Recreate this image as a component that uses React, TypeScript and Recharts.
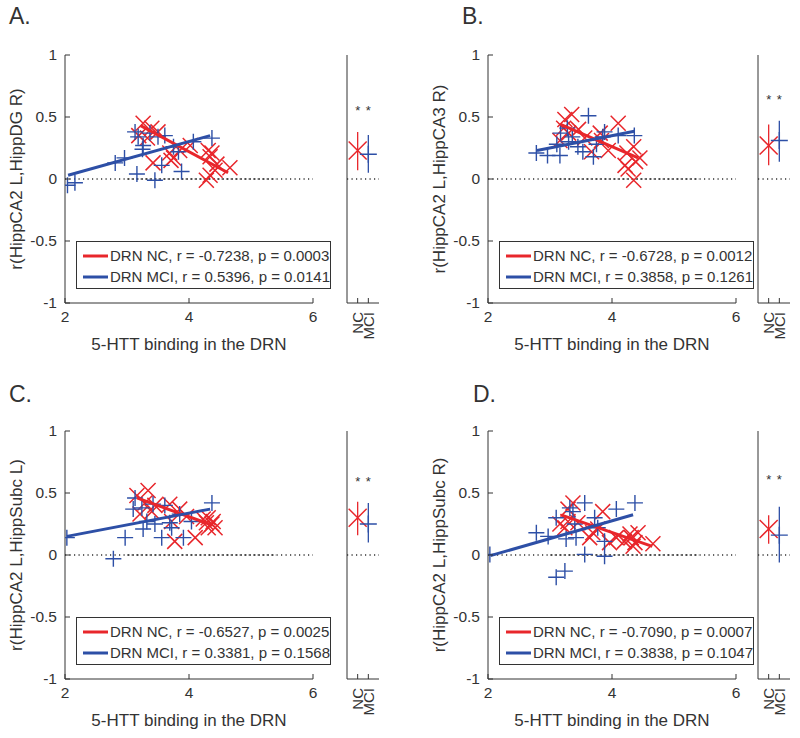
import React from 'react';
import { ScatterChart, Scatter, XAxis, YAxis, ReferenceLine, ErrorBar, Legend } from 'recharts';

const RED = '#e8262b';
const BLUE = '#2d4fa6';
const AX = '#333333';
const TXT = '#333333';
const FONT = '"Liberation Sans", Arial, Helvetica, sans-serif';

const xTicks = [2, 4, 6];
const yTicks = [-1, -0.5, 0, 0.5, 1];
const groupLabels = ['NC', 'MCI'];
const groupX = [1, 2];
const xTitle = '5-HTT binding in the DRN';
const panelLetters = ['A.', 'B.', 'C.', 'D.'];

// ---------- Panel A ----------
const ncA: number[][] = [
  [3.26, 0.45], [3.4, 0.41], [3.5, 0.38], [3.19, 0.35], [3.33, 0.33], [3.42, 0.13], [3.69, 0.21],
  [3.75, 0.17], [3.71, 0.15], [3.85, 0.23], [4.02, 0.27], [4.31, 0.23], [4.37, 0.21], [4.34, 0.18],
  [4.66, 0.09], [4.28, -0.01], [4.34, 0.03], [4.42, 0.07], [4.45, 0.12],
];
const mciA: number[][] = [
  [2.04, -0.05], [2.16, -0.03], [2.81, 0.13], [2.96, 0.17], [3.13, 0.38], [3.18, 0.34], [3.26, 0.27],
  [3.25, 0.24], [3.16, 0.04], [3.37, 0.37], [3.5, 0.34], [3.61, 0.35], [3.45, -0.01], [3.56, 0.11],
  [3.75, 0.26], [3.83, 0.22], [3.88, 0.06], [4.07, 0.3], [4.37, 0.33],
];
const ncFitA: number[][] = [[3.22, 0.43], [4.63, 0.05]];
const mciFitA: number[][] = [[2.05, 0.03], [4.34, 0.35]];
const sideMeanA = [0.23, 0.2];
const sideLowA = [0.07, 0.05];
const sideHighA = [0.38, 0.355];
const starA = 0.57;
const yLabelA = 'r(HippCA2 L,HippDG R)';
const legendA = ['DRN NC, r = -0.7238, p = 0.0003', 'DRN MCI, r = 0.5396, p = 0.0141'];

// ---------- Panel B ----------
const ncB: number[][] = [
  [3.35, 0.52], [3.24, 0.48], [3.22, 0.41], [3.3, 0.37], [3.46, 0.4], [3.56, 0.33], [3.16, 0.31],
  [3.81, 0.37], [3.83, 0.31], [3.67, 0.22], [3.94, 0.23], [4.1, 0.45], [4.24, 0.21], [4.35, 0.26],
  [4.45, 0.17], [4.38, 0.14], [4.21, 0.11], [4.35, -0.01], [4.26, 0.08],
];
const mciB: number[][] = [
  [2.78, 0.21], [2.96, 0.19], [3.16, 0.19], [3.11, 0.28], [3.17, 0.37], [3.28, 0.41], [3.36, 0.34],
  [3.62, 0.51], [3.45, 0.26], [3.53, 0.22], [3.7, 0.18], [3.85, 0.34], [3.88, 0.38], [4.1, 0.35],
  [4.36, 0.35], [3.3, 0.3], [3.75, 0.28],
];
const ncFitB: number[][] = [[3.17, 0.44], [4.42, 0.17]];
const mciFitB: number[][] = [[2.79, 0.23], [4.36, 0.385]];
const sideMeanB = [0.27, 0.31];
const sideLowB = [0.11, 0.14];
const sideHighB = [0.44, 0.47];
const starB = 0.66;
const yLabelB = 'r(HippCA2 L,HippCA3 R)';
const legendB = ['DRN NC, r = -0.6728, p = 0.0012', 'DRN MCI, r = 0.3858, p = 0.1261'];

// ---------- Panel C ----------
const ncC: number[][] = [
  [3.16, 0.48], [3.34, 0.52], [3.29, 0.42], [3.4, 0.35], [3.45, 0.4], [3.21, 0.33], [3.69, 0.41],
  [3.85, 0.37], [3.72, 0.27], [3.96, 0.31], [3.77, 0.11], [4.1, 0.14], [4.23, 0.29], [4.31, 0.3],
  [4.37, 0.25], [4.42, 0.22], [4.31, 0.22], [4.28, 0.26], [4.39, 0.27],
];
const mciC: number[][] = [
  [2.03, 0.14], [2.78, -0.03], [2.97, 0.14], [3.13, 0.46], [3.1, 0.37], [3.26, 0.21], [3.24, 0.38],
  [3.32, 0.27], [3.42, 0.41], [3.45, 0.25], [3.56, 0.14], [3.69, 0.26], [3.72, 0.22], [3.91, 0.14],
  [3.85, 0.33], [4.04, 0.27], [4.37, 0.42], [3.61, 0.4],
];
const ncFitC: number[][] = [[3.16, 0.46], [4.38, 0.24]];
const mciFitC: number[][] = [[2.03, 0.15], [4.34, 0.37]];
const sideMeanC = [0.3, 0.25];
const sideLowC = [0.16, 0.1];
const sideHighC = [0.43, 0.42];
const starC = 0.61;
const yLabelC = 'r(HippCA2 L,HippSubc L)';
const legendC = ['DRN NC, r = -0.6527, p = 0.0025', 'DRN MCI, r = 0.3381, p = 0.1568'];

// ---------- Panel D ----------
const ncD: number[][] = [
  [3.37, 0.42], [3.29, 0.37], [3.85, 0.35], [3.16, 0.25], [3.24, 0.22], [3.29, 0.27], [3.45, 0.26],
  [3.64, 0.14], [3.69, 0.18], [3.77, 0.21], [3.96, 0.1], [4.07, 0.14], [4.2, 0.11], [4.31, 0.14],
  [4.37, 0.1], [4.42, 0.18], [4.34, 0.07], [4.66, 0.09], [4.29, 0.17],
];
const mciD: number[][] = [
  [2.03, 0.005], [2.78, 0.18], [2.97, 0.15], [3.1, -0.18], [3.24, -0.13], [3.1, 0.3], [3.26, 0.13],
  [3.32, 0.38], [3.37, 0.35], [3.42, 0.14], [3.56, 0.42], [3.56, 0.005], [3.72, 0.3], [3.77, 0.22],
  [3.88, 0.11], [3.88, -0.01], [4.07, 0.37], [4.37, 0.42], [3.4, 0.25],
];
const ncFitD: number[][] = [[3.2, 0.32], [4.65, 0.07]];
const mciFitD: number[][] = [[2.04, -0.005], [4.34, 0.325]];
const sideMeanD = [0.21, 0.16];
const sideLowD = [0.09, -0.06];
const sideHighD = [0.32, 0.39];
const starD = 0.63;
const yLabelD = 'r(HippCA2 L,HippSubc R)';
const legendD = ['DRN NC, r = -0.7090, p = 0.0007', 'DRN MCI, r = 0.3838, p = 0.1047'];

const zeroDense = [3.0, 5.4];

const toPts = (arr: number[][]) => arr.map(([x, y]) => ({ x, y }));

const makeX = (s: number, color: string, w: number) => (p: any) => {
  const { cx, cy } = p;
  if (cx == null || cy == null) return <g />;
  return (
    <path
      d={`M${cx - s},${cy - s}L${cx + s},${cy + s}M${cx - s},${cy + s}L${cx + s},${cy - s}`}
      stroke={color}
      strokeWidth={w}
      fill="none"
    />
  );
};
const makePlus = (s: number, color: string, w: number) => (p: any) => {
  const { cx, cy } = p;
  if (cx == null || cy == null) return <g />;
  return (
    <path d={`M${cx - s},${cy}L${cx + s},${cy}M${cx},${cy - s}L${cx},${cy + s}`} stroke={color} strokeWidth={w} fill="none" />
  );
};
const RedX = makeX(7.5, RED, 1.5);
const BluePlus = makePlus(8, BLUE, 1.4);
const BigRedX = makeX(9, RED, 1.5);
const BigBluePlus = makePlus(8.5, BLUE, 1.4);
const NoShape = () => <g />;
const Star = (p: any) => {
  const { cx, cy } = p;
  if (cx == null || cy == null) return <g />;
  return (
    <text x={cx} y={cy + 7} textAnchor="middle" fontSize={13} fill={TXT} fontFamily={FONT}>
      *
    </text>
  );
};

const fmtY = (v: number) => String(v);

const XTick = (p: any) => {
  const { x, y, payload } = p;
  return (
    <g>
      <line x1={x} x2={x} y1={y} y2={y - 5} stroke={AX} strokeWidth={1} />
      <text x={x} y={y + 19} textAnchor="middle" fontSize={15.5} fill={TXT} fontFamily={FONT}>
        {payload.value}
      </text>
    </g>
  );
};
const YTick = (p: any) => {
  const { x, y, payload } = p;
  return (
    <g>
      <line x1={x} x2={x + 5} y1={y} y2={y} stroke={AX} strokeWidth={1} />
      <text x={x - 8} y={y + 5} textAnchor="end" fontSize={15.5} fill={TXT} fontFamily={FONT}>
        {fmtY(payload.value)}
      </text>
    </g>
  );
};
const SideTick = (p: any) => {
  const { x, y, payload } = p;
  const idx = groupX.indexOf(payload.value);
  const ty = y + 9;
  return (
    <g>
      <line x1={x} x2={x} y1={y} y2={y - 5} stroke={AX} strokeWidth={1} />
      <text
        x={x}
        y={ty}
        dy="0.355em"
        transform={`rotate(-90 ${x} ${ty})`}
        textAnchor="end"
        fontSize={15}
        fill={TXT}
        fontFamily={FONT}
      >
        {groupLabels[idx]}
      </text>
    </g>
  );
};

const LegendBox = ({ labels }: { labels: string[] }) => (
  <div
    style={{
      width: 255,
      height: 48,
      boxSizing: 'border-box',
      border: `1px solid ${AX}`,
      background: '#fff',
      padding: '3px 0 0 6px',
      fontFamily: FONT,
      fontSize: 15,
      color: TXT,
    }}
  >
    {labels.map((l, i) => (
      <div key={i} style={{ display: 'flex', alignItems: 'center', height: 21 }}>
        <svg width={25} height={6} style={{ display: 'block' }}>
          <line x1={0} y1={3} x2={25} y2={3} stroke={i === 0 ? RED : BLUE} strokeWidth={3} />
        </svg>
        <span style={{ marginLeft: 2, whiteSpace: 'nowrap', lineHeight: '21px' }}>{l}</span>
      </div>
    ))}
  </div>
);

type MainProps = {
  left: number;
  top: number;
  nc: number[][];
  mci: number[][];
  ncFit: number[][];
  mciFit: number[][];
  yLabel: string;
  legend: string[];
};

function MainPanel({ left, top, nc, mci, ncFit, mciFit, yLabel, legend }: MainProps) {
  const W = 345;
  const H = 370;
  return (
    <div style={{ position: 'absolute', left: left - 65, top: top - 55, width: W, height: H }}>
      <ScatterChart width={W} height={H} margin={{ top: 55, right: 32, bottom: 7, left: 0 }}>
        <XAxis
          type="number"
          dataKey="x"
          domain={[2, 6]}
          ticks={xTicks}
          interval={0}
          allowDataOverflow
          tickSize={0}
          tickMargin={0}
          tickLine={false}
          axisLine={{ stroke: AX }}
          tick={XTick}
          height={60}
          label={{
            value: xTitle,
            position: 'insideBottom',
            offset: 13,
            style: { fontSize: 17, fill: TXT, fontFamily: FONT },
          }}
        />
        <YAxis
          type="number"
          dataKey="y"
          domain={[-1, 1]}
          ticks={yTicks}
          interval={0}
          allowDataOverflow
          width={65}
          tickSize={0}
          tickMargin={0}
          tickLine={false}
          axisLine={{ stroke: AX }}
          tick={YTick}
          label={{
            value: yLabel,
            angle: -90,
            position: 'insideLeft',
            offset: 16,
            style: { textAnchor: 'middle', fontSize: 17, fill: TXT, fontFamily: FONT },
          }}
        />
        <ReferenceLine y={0} stroke={AX} strokeDasharray="1.2 3.3" strokeWidth={1.3} />
        <ReferenceLine
          segment={[{ x: zeroDense[0], y: 0 }, { x: zeroDense[1], y: 0 }]}
          stroke={AX}
          strokeDasharray="2.5 2"
          strokeWidth={1.2}
        />
        <Scatter data={toPts(nc)} shape={RedX} isAnimationActive={false} />
        <Scatter data={toPts(mci)} shape={BluePlus} isAnimationActive={false} />
        <Scatter data={toPts(ncFit)} shape={NoShape} line={{ stroke: RED, strokeWidth: 3 }} isAnimationActive={false} />
        <Scatter data={toPts(mciFit)} shape={NoShape} line={{ stroke: BLUE, strokeWidth: 3 }} isAnimationActive={false} />
        <Legend
          layout="vertical"
          align="center"
          verticalAlign="middle"
          wrapperStyle={{ left: 76, top: 241, width: 255, height: 48, margin: 0, padding: 0 }}
          content={() => <LegendBox labels={legend} />}
        />
      </ScatterChart>
    </div>
  );
}

type SideProps = { left: number; top: number; mean: number[]; low: number[]; high: number[]; star: number };

function SidePanel({ left, top, mean, low, high, star }: SideProps) {
  const W = 45;
  const H = 370;
  const pts = groupX.map((gx, i) => ({ x: gx, y: mean[i], err: [mean[i] - low[i], high[i] - mean[i]] }));
  const stars = groupX.map((gx) => ({ x: gx, y: star }));
  return (
    <div style={{ position: 'absolute', left: left - 5, top: top - 55, width: W, height: H }}>
      <ScatterChart width={W} height={H} margin={{ top: 55, right: 8, bottom: 7, left: 0 }}>
        <XAxis
          type="number"
          dataKey="x"
          domain={[0, 3]}
          ticks={groupX}
          interval={0}
          allowDataOverflow
          tickSize={0}
          tickMargin={0}
          tickLine={false}
          axisLine={{ stroke: AX }}
          tick={SideTick}
          height={60}
        />
        <YAxis
          type="number"
          dataKey="y"
          domain={[-1, 1]}
          allowDataOverflow
          width={5}
          tick={false}
          tickLine={false}
          axisLine={{ stroke: AX }}
        />
        <ReferenceLine y={0} stroke={AX} strokeDasharray="1.2 3.3" strokeWidth={1.3} />
        <Scatter data={[pts[0]]} shape={BigRedX} isAnimationActive={false}>
          <ErrorBar dataKey="err" direction="y" width={0} stroke={RED} strokeWidth={1.3} />
        </Scatter>
        <Scatter data={[pts[1]]} shape={BigBluePlus} isAnimationActive={false}>
          <ErrorBar dataKey="err" direction="y" width={0} stroke={BLUE} strokeWidth={1.3} />
        </Scatter>
        <Scatter data={stars} shape={Star} isAnimationActive={false} />
      </ScatterChart>
    </div>
  );
}

const panels = [
  { main: 65, side: 347, top: 55, letterX: 9, letterTop: 4.5, nc: ncA, mci: mciA, ncFit: ncFitA, mciFit: mciFitA, yLabel: yLabelA, legend: legendA, mean: sideMeanA, low: sideLowA, high: sideHighA, star: starA },
  { main: 488, side: 758, top: 55, letterX: 462, letterTop: 4.5, nc: ncB, mci: mciB, ncFit: ncFitB, mciFit: mciFitB, yLabel: yLabelB, legend: legendB, mean: sideMeanB, low: sideLowB, high: sideHighB, star: starB },
  { main: 65, side: 347, top: 431, letterX: 9, letterTop: 382.5, nc: ncC, mci: mciC, ncFit: ncFitC, mciFit: mciFitC, yLabel: yLabelC, legend: legendC, mean: sideMeanC, low: sideLowC, high: sideHighC, star: starC },
  { main: 488, side: 758, top: 431, letterX: 473, letterTop: 382.5, nc: ncD, mci: mciD, ncFit: ncFitD, mciFit: mciFitD, yLabel: yLabelD, legend: legendD, mean: sideMeanD, low: sideLowD, high: sideHighD, star: starD },
];

export default function App() {
  return (
    <div style={{ position: 'absolute', left: 0, top: 0, width: 800, height: 738, background: '#fff', overflow: 'hidden' }}>
      {panels.map((p, i) => (
        <React.Fragment key={i}>
          <div
            style={{
              position: 'absolute',
              left: p.letterX,
              top: p.letterTop,
              fontFamily: FONT,
              fontSize: 23,
              lineHeight: '23px',
              color: TXT,
            }}
          >
            {panelLetters[i]}
          </div>
          <MainPanel
            left={p.main}
            top={p.top}
            nc={p.nc}
            mci={p.mci}
            ncFit={p.ncFit}
            mciFit={p.mciFit}
            yLabel={p.yLabel}
            legend={p.legend}
          />
          <SidePanel left={p.side} top={p.top} mean={p.mean} low={p.low} high={p.high} star={p.star} />
        </React.Fragment>
      ))}
    </div>
  );
}
